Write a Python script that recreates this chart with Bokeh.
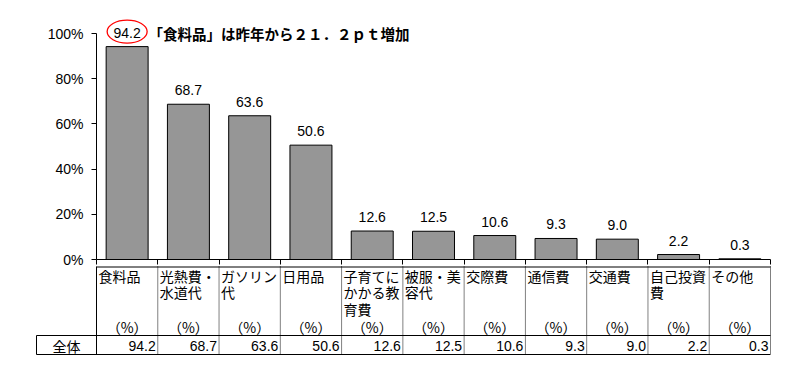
from bokeh.plotting import figure
from bokeh.models import Range1d, FixedTicker, PrintfTickFormatter, Label
from bokeh.embed import file_html
from bokeh.resources import INLINE
from bokeh.core.properties import value

# ---- data ----
categories = ["食料品", "光熱費・\n水道代", "ガソリン\n代", "日用品", "子育てに\nかかる教\n育費",
              "被服・美\n容代", "交際費", "通信費", "交通費", "自己投資\n費", "その他"]
values = [94.2, 68.7, 63.6, 50.6, 12.6, 12.5, 10.6, 9.3, 9.0, 2.2, 0.3]
y_ticks = [0, 20, 40, 60, 80, 100]
row_label = "全体"
unit_label = "（%）"
headline = "「食料品」は昨年から２１．２ｐｔ増加"
highlight_index = 0

value_labels = [f"{v:.1f}" for v in values]
n = len(values)
xs = [i + 1 for i in range(n)]

NUM_FONT = value("Liberation Sans")
JP_FONT = value("Noto Sans CJK JP")

# ---- geometry (page pixels) ----
OFF = 0                       # page offset of the figure
px_per_cat = 674 / n          # horizontal scale
px_per_pct = 226 / 100        # vertical scale
base_y = 259 - OFF            # pixel row of 0 %
frame_left, frame_right = 30 - OFF, 776 - OFF
frame_top, frame_bottom = 0, 360
W, H = 800, 370

x_start = 0.5 - (96 - OFF - frame_left) / px_per_cat
x_end = x_start + (frame_right - frame_left) / px_per_cat
y_top = (base_y - frame_top) / px_per_pct
y_bot = -(frame_bottom - base_y) / px_per_pct

p = figure(width=W, height=H,
           x_range=Range1d(x_start, x_end),
           y_range=Range1d(y_bot, y_top),
           output_backend="svg", toolbar_location=None,
           min_border_left=frame_left, min_border_right=W - frame_right,
           min_border_top=frame_top, min_border_bottom=H - frame_bottom)
p.extra_y_ranges = {"table": Range1d(frame_bottom + OFF, frame_top + OFF)}
p.grid.visible = False
p.outline_line_color = None

# ---- bars ----
p.vbar(x=xs, top=values, width=0.685, fill_color="#969696",
       line_color="black", line_width=1)
p.text(x=xs, y=values, text=value_labels, y_offset=-14,
       text_align="center", text_baseline="middle",
       text_font=NUM_FONT, text_font_size="14px", text_color="black")

hx = xs[highlight_index]
hy = values[highlight_index] + 15 / px_per_pct
p.ellipse(x=[hx], y=[hy], width=40, height=23,
          width_units="screen", height_units="screen",
          fill_color=None, line_color="red", line_width=1.3)
p.add_layout(Label(x=hx + 0.35, y=100, text=headline,
                   text_font="Noto Sans CJK JP", text_font_size="14.5px",
                   text_font_style="bold", text_baseline="middle",
                   text_align="left", text_color="black"))

# ---- axes ----
p.yaxis.fixed_location = 0.5
p.yaxis.ticker = FixedTicker(ticks=y_ticks)
p.yaxis.bounds = (0, 100)
p.yaxis.formatter = PrintfTickFormatter(format="%d%%")
p.yaxis.major_tick_in = 0
p.yaxis.major_tick_out = 5
p.yaxis.minor_tick_line_color = None
p.yaxis.major_label_text_font = "Liberation Sans"
p.yaxis.major_label_text_font_size = "14px"
p.yaxis.major_label_text_color = "black"
p.yaxis.major_label_standoff = 8
p.yaxis.axis_line_color = "black"
p.yaxis.major_tick_line_color = "black"

p.xaxis.fixed_location = 0
p.xaxis.ticker = FixedTicker(ticks=[], minor_ticks=[i + 0.5 for i in range(n + 1)])
p.xaxis.bounds = (0.5, n + 0.5)
p.xaxis.minor_tick_in = 0
p.xaxis.minor_tick_out = 5
p.xaxis.minor_tick_line_color = "black"
p.xaxis.major_tick_line_color = None
p.xaxis.axis_line_color = "black"

# ---- table (y in page pixels) ----
left_edge = 0.5 - 60 / px_per_cat
T = "table"
p.segment(x0=[0.5, left_edge, left_edge, 0.5, left_edge],
          y0=[266.5, 335, 354, 266, 335],
          x1=[n + 0.5, n + 0.5, n + 0.5, 0.5, left_edge],
          y1=[266.5, 335, 354, 354, 354],
          line_color="black", line_width=1, y_range_name=T)
p.segment(x0=[i + 1.5 for i in range(n)], y0=[266] * n,
          x1=[i + 1.5 for i in range(n)], y1=[354] * n,
          line_color="black", line_width=1, line_dash="1 1", y_range_name=T)

line_x, line_y, line_text = [], [], []
for x, lab in zip(xs, categories):
    for k, part in enumerate(lab.split("\n")):
        line_x.append(x - 0.5 + 2 / px_per_cat)
        line_y.append(275 + 16.7 * k)
        line_text.append(part)
p.text(x=line_x, y=line_y, text=line_text,
       text_align="left", text_baseline="middle",
       text_font=JP_FONT, text_font_size="14px", text_color="black", y_range_name=T)
p.text(x=xs, y=[326] * n, text=[unit_label] * n,
       text_align="center", text_baseline="middle",
       text_font=JP_FONT, text_font_size="14px", text_color="black", y_range_name=T)
p.text(x=[x + 0.5 - 2 / px_per_cat for x in xs], y=[345] * n, text=value_labels,
       text_align="right", text_baseline="middle",
       text_font=NUM_FONT, text_font_size="14px", text_color="black", y_range_name=T)
p.text(x=[(left_edge + 0.5) / 2], y=[345], text=[row_label],
       text_align="center", text_baseline="middle",
       text_font=JP_FONT, text_font_size="14px", text_color="black", y_range_name=T)

open("out.html", "w").write(file_html(p, INLINE))
